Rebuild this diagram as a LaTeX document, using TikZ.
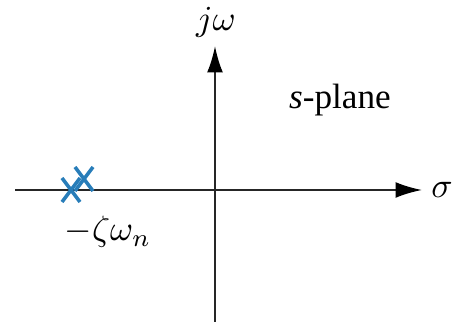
\documentclass[tikz,border=0pt]{standalone}
\usepackage{fontspec}
\setmainfont{Liberation Serif}
\usetikzlibrary{arrows.meta}

\definecolor{poleblue}{RGB}{40,125,185}

\begin{document}
\begin{tikzpicture}[x=0.01cm, y=-0.01cm,
		axis/.style={line width=0.6pt, black!85, -{Latex[length=7.5pt, width=4.5pt, black]}},
		pole/.style={line width=1pt, poleblue}]
		\useasboundingbox (0,0) rectangle (454,325);
		% axes
		\coordinate (west) at (15,190);
		\coordinate (east) at (422,190);
		\coordinate (south) at (215,322);
		\coordinate (north) at (215,46);
		\draw [axis] (west) -- (east);
		\draw [axis] (south) -- (north);
		\node (sigma) at (442,190) {$\sigma$};
		\node (jw) at (216,22) {$j\omega$};
		\node (plane) at (340,100) {\textit{s}-plane};
		% double pole on the real axis
		\coordinate (p1) at (71,190);
		\coordinate (p2) at (84,179);
		\draw [pole] (p1) ++(-9,-12) -- ++(18,24) (p1) ++(9,-12) -- ++(-18,24);
		\draw [pole] (p2) ++(-9,-12) -- ++(18,24) (p2) ++(9,-12) -- ++(-18,24);
		\node (zw) at (108,232) {$-\zeta\omega_n$};
	\end{tikzpicture}
\end{document}
